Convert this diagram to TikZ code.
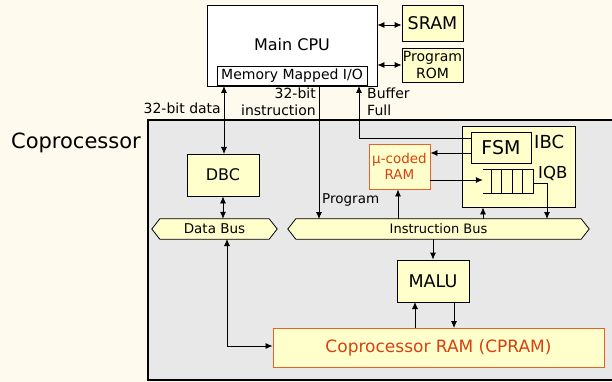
\documentclass[tikz,border=0pt]{standalone}
\usepackage{fontspec}
\setmainfont{DejaVu Sans}
\usetikzlibrary{arrows.meta}
\definecolor{bgc}{HTML}{FFFAEE}
\definecolor{boxc}{HTML}{FFFFCC}
\definecolor{grayc}{HTML}{E8E8E8}
\definecolor{orc}{HTML}{E8602C}
\definecolor{ortext}{HTML}{D84010}
\tikzset{
  blk/.style={draw=black, line width=0.8pt, fill=boxc, inner sep=0pt},
  oblk/.style={draw=orc, line width=0.9pt, fill=boxc, inner sep=0pt, text=ortext},
  lbl/.style={inner sep=0pt, align=center},
  conn/.style={line width=0.8pt, -{Latex[length=7pt,width=6pt]}},
  dconn/.style={line width=0.8pt, {Latex[length=7pt,width=6pt]}-{Latex[length=7pt,width=6pt]}},
}
\begin{document}
\begin{tikzpicture}[x=1pt,y=-1pt]
\useasboundingbox (0,0) rectangle (612,382);
\fill[bgc] (0,0) rectangle (612,382);
% coprocessor area
\draw[fill=grayc, line width=2.2pt] (616,120) -- (148,120) -- (148,380) -- (616,380);
\node[lbl, font=\fontsize{21}{24}\selectfont, anchor=east] (copro) at (141,143) {Coprocessor};

% main CPU
\node[draw=black, line width=0.8pt, fill=white, minimum width=170pt, minimum height=81pt] (cpu) at (292,45.5) {};
\node[lbl, font=\fontsize{16}{19}\selectfont] (cpulbl) at (292,45) {Main CPU};
\node[draw=black, line width=0.8pt, fill=white, minimum width=150pt, minimum height=19pt, inner sep=0pt, font=\fontsize{14}{16}\selectfont] (mmio) at (292,76) {Memory Mapped I/O};
\node[blk, minimum width=61pt, minimum height=36pt, font=\fontsize{17.5}{20}\selectfont] (sram) at (432.5,23) {SRAM};
\node[blk, minimum width=61pt, minimum height=34pt, align=center, font=\fontsize{14}{17}\selectfont] (rom) at (432.5,65) {Program\\ROM};
\draw[dconn] (cpu.east |- 0,25) -- (sram.west |- 0,25);
\draw[dconn] (cpu.east |- rom) -- (rom.west);

% DBC and buses
\node[blk, minimum width=72pt, minimum height=42pt, font=\fontsize{16}{19}\selectfont] (dbc) at (223,175) {DBC};
\node[minimum width=125pt, minimum height=20pt, inner sep=0pt] (dbus) at (214.5,229) {};
\draw[fill=boxc, line width=0.8pt] (dbus.west) -- ([xshift=8pt]dbus.north west) -- ([xshift=-8pt]dbus.north east) -- (dbus.east) -- ([xshift=-8pt]dbus.south east) -- ([xshift=8pt]dbus.south west) -- cycle;
\node[lbl, font=\fontsize{13.5}{15}\selectfont] (dbuslbl) at (dbus.center) {Data Bus};
\node[minimum width=301pt, minimum height=20pt, inner sep=0pt] (ibus) at (438.5,229) {};
\draw[fill=boxc, line width=0.8pt] (ibus.west) -- ([xshift=8pt]ibus.north west) -- ([xshift=-8pt]ibus.north east) -- (ibus.east) -- ([xshift=-8pt]ibus.south east) -- ([xshift=8pt]ibus.south west) -- cycle;
\node[lbl, font=\fontsize{13}{15}\selectfont] (ibuslbl) at (ibus.center) {Instruction Bus};

% IBC
\node[blk, minimum width=113pt, minimum height=81pt] (ibc) at (518.5,166.5) {};
\node[lbl, font=\fontsize{18}{20}\selectfont, anchor=west] (ibclbl) at (534,142) {IBC};
\node[blk, minimum width=60pt, minimum height=31pt, font=\fontsize{19}{21}\selectfont] (fsm) at (501,147.5) {FSM};
\node[minimum width=50pt, minimum height=23pt, inner sep=0pt] (iqb) at (508,181.5) {};
\draw[line width=0.9pt] (iqb.north west) -- (iqb.north east) -- (iqb.south east) -- (iqb.south west);
\foreach \xx in {491.7,501.7,512,522.7} \draw[line width=0.9pt] (\xx,170) -- (\xx,193);
\node[lbl, font=\fontsize{16.5}{18}\selectfont, anchor=west] (iqblbl) at (538,173) {IQB};
\node[oblk, minimum width=61pt, minimum height=45pt, align=center, font=\fontsize{13.5}{16}\selectfont] (uram) at (399.5,166.5) {µ-coded\\RAM};

% MALU and CPRAM
\node[blk, minimum width=72pt, minimum height=42pt, font=\fontsize{17.5}{20}\selectfont] (malu) at (433,281) {MALU};
\node[oblk, minimum width=331pt, minimum height=39pt, font=\fontsize{17}{20}\selectfont] (cpram) at (438.5,347.5) {Coprocessor RAM (CPRAM)};

% connectors
\draw[dconn] (224,86) -- (224,154);
\draw[dconn] (dbc.south) -- (dbc.south |- dbus.north);
\draw[conn] (319,86) -- (319,219);
\draw[conn] (fsm.west |- 0,138) -- (359,138) -- (359,86);
\draw[conn] (fsm.west |- 0,153) -- (uram.east |- 0,153);
\draw[conn] (uram.east |- 0,180) -- (iqb.west |- 0,180);
\draw[conn] (398,219) -- (uram.south -| 398,0);
\draw[conn] (483,219) -- (ibc.south -| 483,0);
\draw[conn] (iqb.east |- 0,183) -- (547,183) -- (547,219);
\draw[conn] (malu.north |- ibus.south) -- (malu.north);
\draw[conn] (415,328) -- (415,302);
\draw[conn] (454,302) -- (454,328);
\draw[dconn] (227,239) -- (227,346) -- (cpram.west |- 0,346);

% labels
\node[lbl, font=\fontsize{14}{17}\selectfont, anchor=east] (l32d) at (221,108) {32-bit data};
\node[lbl, font=\fontsize{14}{17}\selectfont, anchor=east, align=right] (l32i) at (316,101.5) {32-bit\\instruction};
\node[lbl, font=\fontsize{14}{17}\selectfont, anchor=west, align=left] (lbf) at (367,101.5) {Buffer\\Full};
\node[lbl, font=\fontsize{13.5}{15}\selectfont, anchor=west] (lprog) at (322,200) {Program};
\end{tikzpicture}
\end{document}
